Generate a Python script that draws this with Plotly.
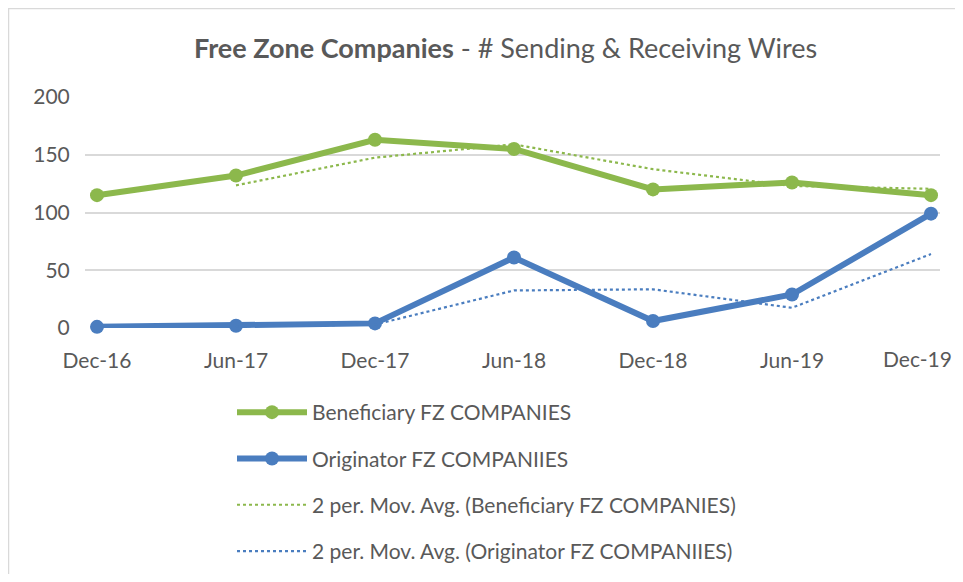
import plotly.graph_objects as go

categories = ["Dec-16", "Jun-17", "Dec-17", "Jun-18", "Dec-18", "Jun-19", "Dec-19"]
beneficiary = [115, 132, 163, 155, 120, 126, 115]
originator = [1, 2, 4, 61, 6, 29, 99]
# moving-average trendlines
beneficiary_ma = [None, 123.5, 147.5, 159, 137.5, 123, 120.5]
originator_ma = [None, 1.5, 3, 32.5, 33.5, 17.5, 64]
y_ticks = [0, 50, 100, 150, 200]

GREEN = "#8cb84c"
BLUE = "#4a7dbf"
TEXT = "#595959"
FONT = "Lato, 'Liberation Sans', sans-serif"

# page has an 8px body margin; figure coords = page coords - 8
OFF = 8
W, H = 947, 566
L, R, T, B = 77, 15, 89, 246

fig = go.Figure()
fig.add_trace(go.Scatter(x=categories, y=beneficiary, mode="lines+markers",
                         name="Beneficiary FZ COMPANIES", legendgroup="a",
                         line=dict(color=GREEN, width=6), marker=dict(size=14, color=GREEN),
                         cliponaxis=False))
fig.add_trace(go.Scatter(x=categories, y=originator, mode="lines+markers",
                         name="Originator FZ COMPANIIES", legendgroup="b",
                         line=dict(color=BLUE, width=6), marker=dict(size=14, color=BLUE),
                         cliponaxis=False))
fig.add_trace(go.Scatter(x=categories, y=beneficiary_ma, mode="lines",
                         name="2 per. Mov. Avg. (Beneficiary FZ COMPANIES)", legendgroup="c",
                         line=dict(color=GREEN, width=2.2, dash="dot"), connectgaps=False))
fig.add_trace(go.Scatter(x=categories, y=originator_ma, mode="lines",
                         name="2 per. Mov. Avg. (Originator FZ COMPANIIES)", legendgroup="d",
                         line=dict(color=BLUE, width=2.2, dash="dot"), connectgaps=False))

pw = W - L - R
ph = H - T - B
def px(xp):
    return (xp - OFF - L) / pw
def py(yp):
    return (H - B - (yp - OFF)) / ph

# last tick label would run past the right edge: draw it right-aligned to the edge
tick_text = categories[:-1] + [""]

fig.update_layout(
    width=W, height=H,
    margin=dict(l=L, r=R, t=T, b=B, autoexpand=False),
    paper_bgcolor="white", plot_bgcolor="white",
    font=dict(family=FONT, color=TEXT, size=21),
    showlegend=True,
    legend=dict(x=px(232), y=py(392), xanchor="left", yanchor="top",
                font=dict(size=21, color=TEXT), tracegroupgap=16, itemwidth=70,
                bgcolor="rgba(0,0,0,0)"),
    xaxis=dict(type="category", range=[-12/139, 6 + 9/139], showgrid=False,
               showline=False, zeroline=False, ticks="outside", ticklen=14,
               automargin=False, tickvals=categories, ticktext=tick_text,
               tickcolor="rgba(0,0,0,0)", tickfont=dict(size=21, color=TEXT)),
    yaxis=dict(range=[0, 200], tickvals=y_ticks, showgrid=True, gridcolor="#d9d9d9",
               gridwidth=1.8, zeroline=False, showline=False, ticks="outside",
               ticklen=10, automargin=False,
               tickcolor="rgba(0,0,0,0)", tickfont=dict(size=21, color=TEXT)),
    annotations=[
        dict(x=px(505), y=py(47), xref="paper", yref="paper",
             text="<b>Free Zone Companies</b> - # Sending &amp; Receiving Wires",
             showarrow=False, font=dict(size=27, color=TEXT),
             xanchor="center", yanchor="middle"),
        dict(x=px(955), y=py(358), xref="paper", yref="paper",
             text=categories[-1], showarrow=False, font=dict(size=21, color=TEXT),
             xanchor="right", yanchor="middle", xshift=-1),
    ],
    shapes=[dict(type="rect", xref="paper", yref="paper",
                 x0=px(8.5), x1=px(1000), y0=py(8.5), y1=py(700),
                 line=dict(color="#d9d9d9", width=1.5), layer="below")],
)

fig.write_html("out.html")
